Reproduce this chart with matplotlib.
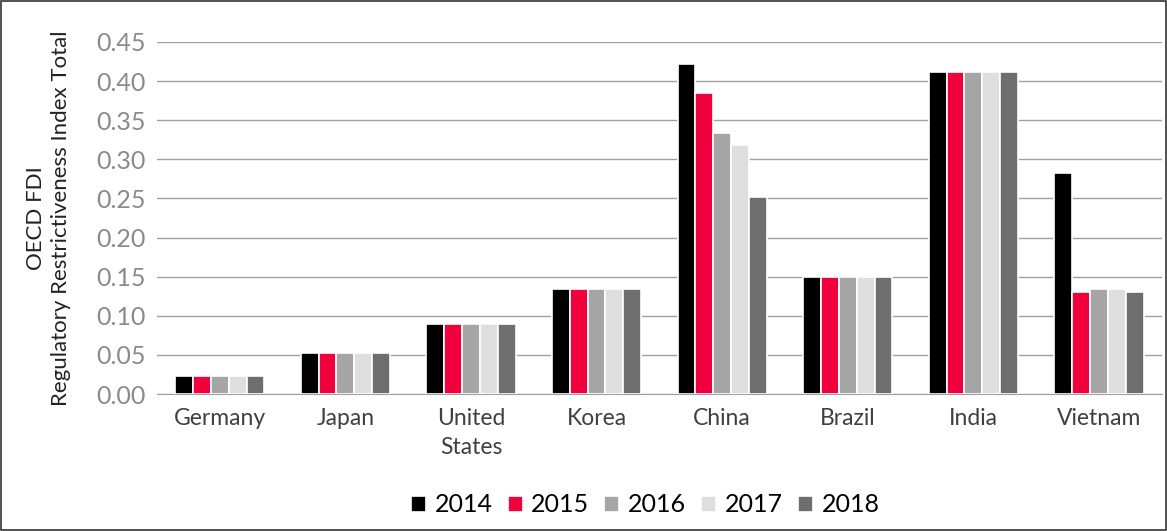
import matplotlib
matplotlib.use("Agg")
import matplotlib.pyplot as plt
import numpy as np

# --- Data ---
countries = ["Germany", "Japan", "United\nStates", "Korea", "China", "Brazil", "India", "Vietnam"]
years = ["2014", "2015", "2016", "2017", "2018"]
v2014 = [0.023, 0.053, 0.090, 0.134, 0.422, 0.149, 0.411, 0.282]
v2015 = [0.023, 0.053, 0.090, 0.134, 0.385, 0.149, 0.411, 0.130]
v2016 = [0.023, 0.053, 0.090, 0.134, 0.333, 0.149, 0.411, 0.134]
v2017 = [0.023, 0.053, 0.090, 0.134, 0.318, 0.149, 0.411, 0.134]
v2018 = [0.023, 0.053, 0.090, 0.134, 0.252, 0.149, 0.411, 0.130]
series = [v2014, v2015, v2016, v2017, v2018]
colors = ["#000000", "#f0003c", "#a5a5a5", "#dedede", "#6e6e6e"]

plt.rcParams["font.family"] = ["Lato", "DejaVu Sans"]

fig = plt.figure(figsize=(11.67, 5.31), dpi=100)
ax = fig.add_axes([0.1345, 0.258, 0.861, 0.663])

x = np.arange(len(countries))
bw = 0.142
for i, (vals, c, yr) in enumerate(zip(series, colors, years)):
    ax.bar(x + (i - 2) * bw, vals, width=bw, color=c, edgecolor="white",
           linewidth=1.2, label=yr, zorder=3)

ax.set_ylim(0, 0.45)
ax.set_xlim(-0.5, len(countries) - 0.5)
ticks = np.arange(0, 0.451, 0.05)
ax.set_yticks(ticks)
ax.set_yticklabels([f"{t:.2f}" for t in ticks])
ax.yaxis.grid(True, color="#a0a0a0", linewidth=1.0, zorder=0)
ax.set_axisbelow(True)
for s in ["top", "right", "left"]:
    ax.spines[s].set_visible(False)
ax.spines["bottom"].set_color("#a0a0a0")
ax.tick_params(axis="y", length=0, labelsize=18, labelcolor="#8a8a8a", pad=8)
ax.tick_params(axis="x", length=0, labelsize=16.5, labelcolor="#404040", pad=10)
ax.set_xticks(x)
ax.set_xticklabels(countries, linespacing=1.45)
ax.set_ylabel("OECD FDI\nRegulatory Restrictiveness Index Total",
              fontsize=16, color="#222222", labelpad=18, linespacing=1.35)

leg = fig.legend(loc="center", bbox_to_anchor=(0.553, 0.049), ncol=5,
                 frameon=False, fontsize=18, handlelength=0.6,
                 handleheight=0.6, handletextpad=0.35, columnspacing=0.6)

# border around the whole figure
fig.patches.append(plt.Rectangle((0.001, 0.001), 0.998, 0.998, transform=fig.transFigure,
                                 fill=False, edgecolor="#333333", linewidth=1.2))

fig.savefig("out.png", dpi=100)
